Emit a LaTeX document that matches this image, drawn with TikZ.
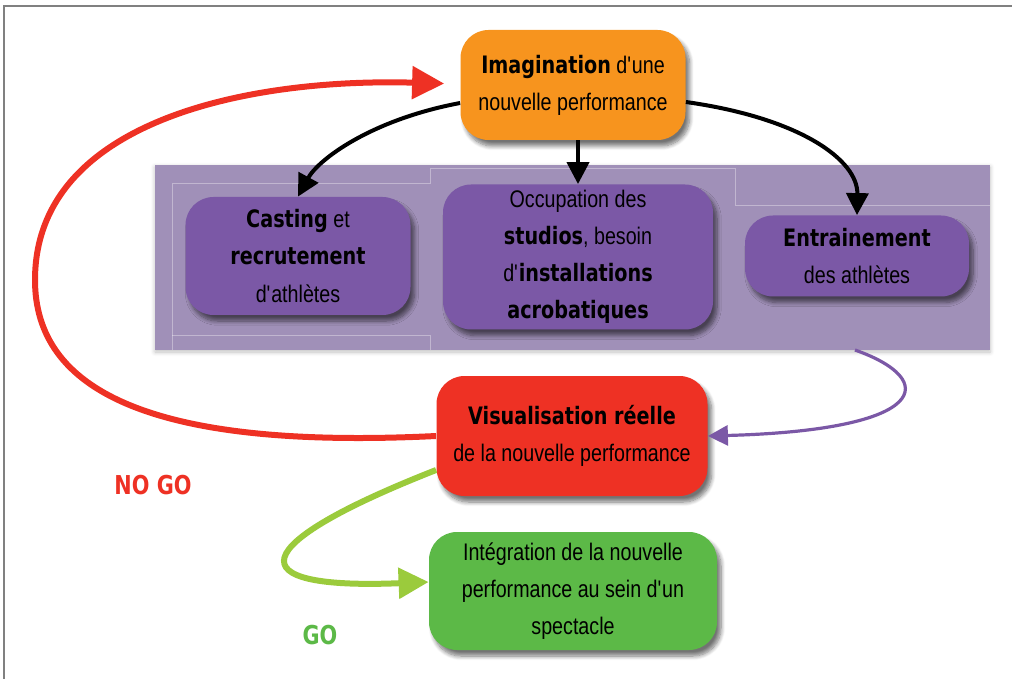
\documentclass[tikz,border=0pt]{standalone}
\usepackage{fontspec}
\setmainfont{Liberation Sans}[FakeStretch=0.82, BoldFont={DejaVu Sans Bold}, BoldFeatures={FakeStretch=0.8}]
\usetikzlibrary{arrows.meta,shadows.blur}

\definecolor{imagorange}{HTML}{F7941E}
\definecolor{boxpurple}{HTML}{7B58A6}
\definecolor{panelpurple}{HTML}{A090B8}
\definecolor{visured}{HTML}{EE3124}
\definecolor{integgreen}{HTML}{5CB947}
\definecolor{golime}{HTML}{9BCB3C}
\newcommand{\ap}{\textquotesingle}

\begin{document}
\begin{tikzpicture}[x=0.5pt, y=-0.5pt,
    box/.style={rounded corners=14pt, align=center, inner sep=0pt,
      font=\fontsize{12}{18.5}\selectfont,
      blur shadow={shadow xshift=2pt, shadow yshift=-3pt, shadow opacity=55, shadow blur steps=8}},
    tip/.style={-{Triangle[length=#1, width=#1]}}]
          \useasboundingbox (0,0) rectangle (1012,679);
          \draw [gray, line width=1pt] (4,679) -- (4,6) -- (1012,6);

          \node (panel) at (572.5,257.5) [fill=panelpurple, minimum width=417.5pt, minimum height=92.5pt,
            blur shadow={shadow xshift=0pt, shadow yshift=-1pt, shadow opacity=25}] {};
          \draw [white, opacity=0.35] (172,350) -- (172,183) -- (430,183) -- (430,168) -- (735,168);
          \draw [white, opacity=0.35] (172,335) -- (430,335) -- (430,350);
          \draw [white, opacity=0.35] (735,168) -- (735,205) -- (990,205);

          \node (imag) at (573,85) [box, fill=imagorange, minimum width=112.5pt, minimum height=55pt]
            {\textbf{Imagination} d\ap une\\nouvelle performance};
          \node (casting) at (298,256) [box, fill=boxpurple, minimum width=112.5pt, minimum height=59pt]
            {\textbf{Casting} et\\\textbf{recrutement}\\d\ap athlètes};
          \node (studios) at (578,257) [box, fill=boxpurple, minimum width=135pt, minimum height=72.5pt]
            {Occupation des\\\textbf{studios}, besoin\\d\ap\textbf{installations}\\\textbf{acrobatiques}};
          \node (entrain) at (857,256) [box, fill=boxpurple, minimum width=112pt, minimum height=40.5pt]
            {\textbf{Entrainement}\\des athlètes};
          \node (visu) at (572,436) [box, fill=visured, minimum width=135.5pt, minimum height=60pt]
            {\textbf{Visualisation réelle}\\de la nouvelle performance};
          \node (integ) at (573,591) [box, fill=integgreen, minimum width=144pt, minimum height=59pt]
            {Intégration de la nouvelle\\performance au sein d\ap un\\spectacle};

          \node (nogo) at (153,485) [text=visured, font=\fontsize{13}{15}\selectfont\bfseries] {NO GO};
          \node (go) at (320,635) [text=integgreen, font=\fontsize{13}{15}\selectfont\bfseries] {GO};
          \coordinate (pstart) at (855,350);

          \draw [tip=11pt, line width=2pt] (imag.west |- 0,103) .. controls (370,120) and (318,160) .. (casting.north);
          \draw [tip=11pt, line width=2pt] (imag.south -| studios) -- (studios.north);
          \draw [tip=11pt, line width=2pt] (imag.east |- 0,102) .. controls (800,118) and (858,160) .. (entrain.north);
          \draw [tip=10pt, line width=1.6pt, boxpurple] (pstart) .. controls (940,380) and (930,430) .. (visu.east);
          \draw [tip=16pt, line width=3pt, visured, shorten >=8pt] (visu.west)
            .. controls (150,450) and (35,390) .. (35,280)
            .. controls (35,120) and (250,78) .. (imag.west |- 0,84);
          \draw [tip=15pt, line width=3pt, golime] (visu.west |- 0,470)
            .. controls (245,545) and (235,590) .. (integ.west |- 0,582);
          \end{tikzpicture}
\end{document}
